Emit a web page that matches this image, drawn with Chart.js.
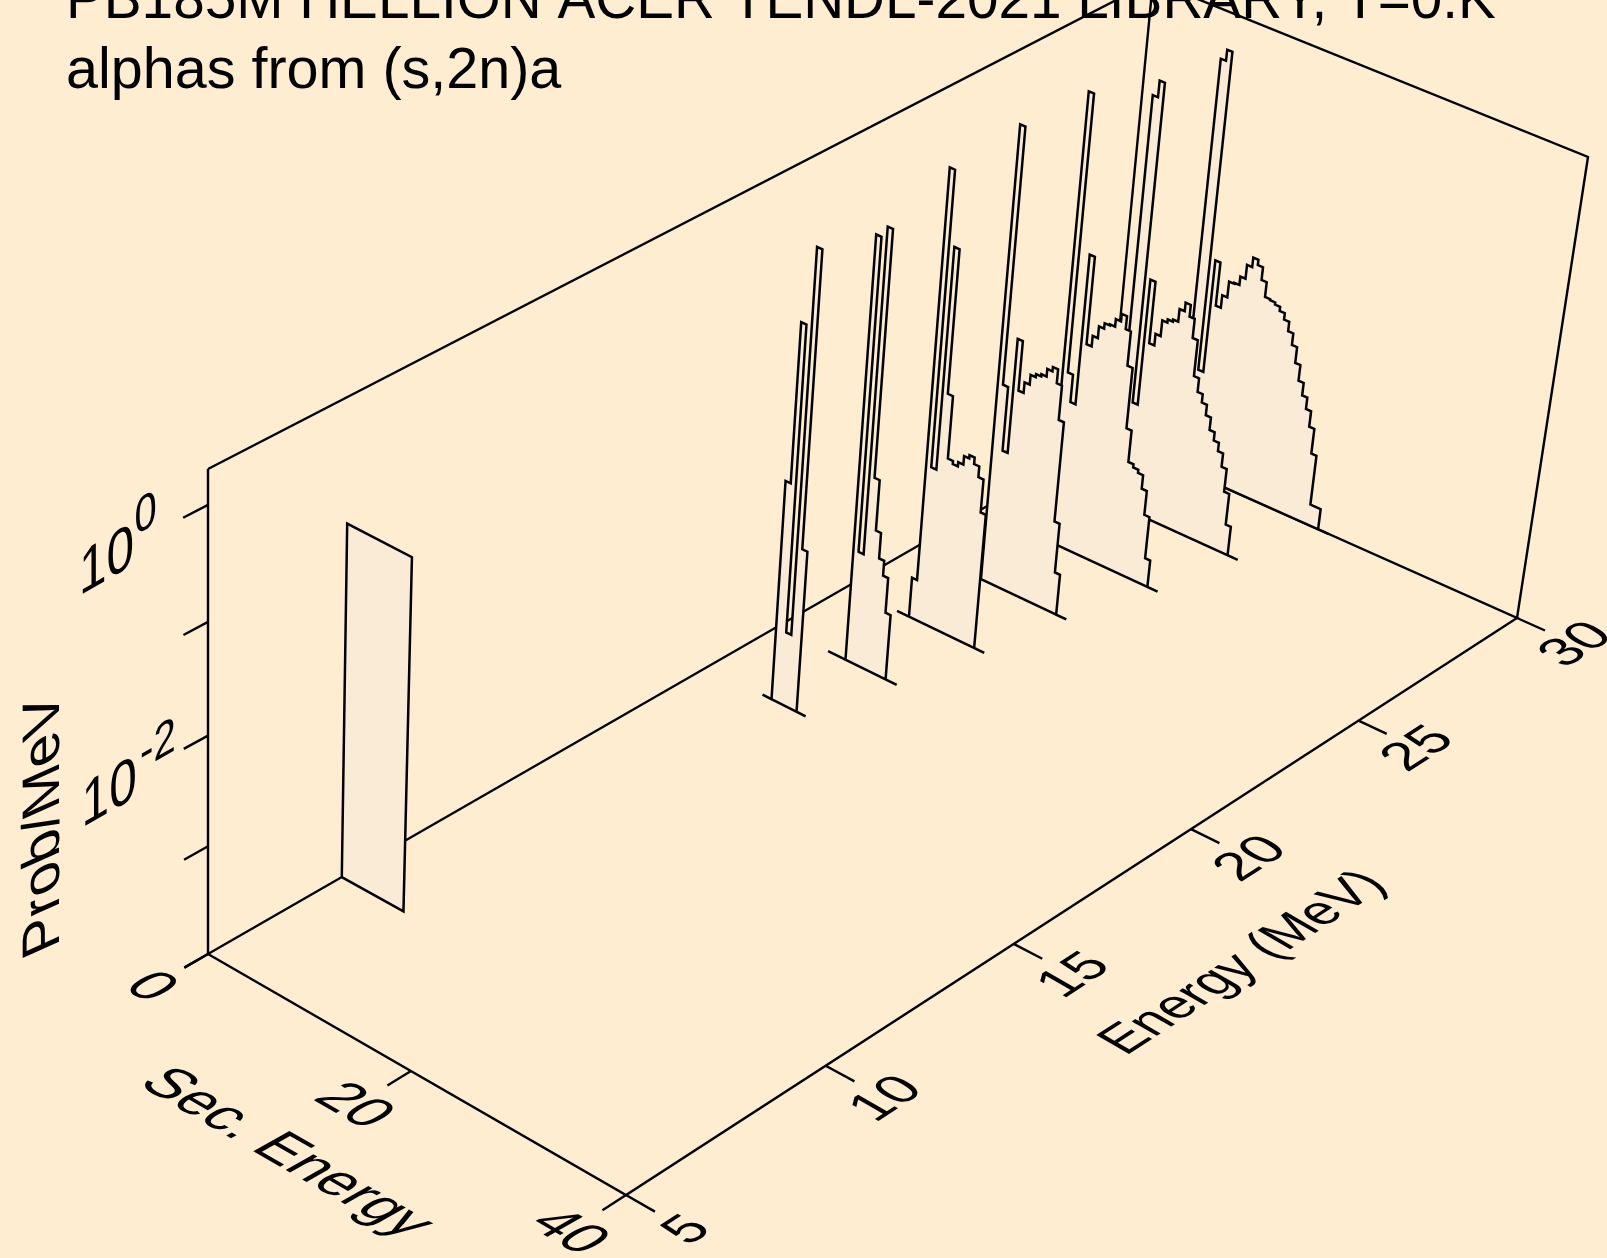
<!DOCTYPE html>
<html>
<head>
<meta charset="utf-8">
<title>alphas from (s,2n)a</title>
<style>
  html, body { margin: 0; padding: 0; background: #FFEDD2; overflow: hidden; }
  canvas { display: block; }
</style>
<script src="https://cdn.jsdelivr.net/npm/chart.js@4/dist/chart.umd.min.js"></script>
</head>
<body>
<canvas id="plot" width="1607" height="1258"></canvas>
<script>
// title
const titleLines = ['PB185M HELLION ACER TENDL-2021 LIBRARY, T=0.K', 'alphas from (s,2n)a'];

// incident energy of each spectrum (MeV), front to back
const incidentEnergies = [8.3, 18, 20, 22, 24, 26, 28, 30];

// sec. energy of the first bin edge, and bin widths (MeV)
const firstEdges = [0, 6.5, 6.85, 6.3, 6.75, 6.75, 6.8, 7];
const binWidths = [6.2, 0.5, 0.5, 0.5, 0.5, 0.5, 0.5, 0.5];

// where the zero line of each spectrum starts / how far it runs past the last bin
const baseStarts = [0, 5.6, 5.1, 5.1, 5.1, 5.1, 5.1, 5.1];
const baseOverruns = [0, 0.9, 1.1, 1, 1, 1, 1, 1];

// log10(Prob/MeV) per bin
const logProb8 = [-0.79];
const logProb18 = [-1.94, -0.49, -3.31, 0.21, -2.48];
const logProb20 = [-0.07, -2.94, 0.04, -2.2, -2.67, -2.91, -3.05, -3.38];
const logProb22 = [-3.62, 0.18, -2.52, -0.48, -1.79, -2.37, -2.4, -2.36, -2.28, -2.25, -2.31, -2.41, -2.72];
const logProb24 = [0.23, -2.11, -2.71, -1.64, -2.1, -2.0, -1.91, -1.88, -1.86, -1.79, -1.75, -1.88, -2.2, -3.14, -3.61];
const logProb26 = [0.2, -2.35, -2.61, -1.21, -2.02, -1.92, -1.81, -1.76, -1.75, -1.68, -1.61, -1.73, -2.05, -2.62, -2.92, -2.95, -2.98, -3.11, -3.34, -3.74];
const logProb28 = [-0.15, 0, -2.97, -1.78, -2.36, -2.25, -2.1, -2.07, -2.05, -1.93, -1.85, -1.96, -2.14, -2.48, -2.61, -2.69, -2.79, -2.91, -2.99, -3.07, -3.2, -3.42, -3.72];
const logProb30 = [-0.13, -0.03, -3.0, -1.93, -2.34, -2.22, -2.07, -2.06, -1.98, -1.85, -1.76, -1.81, -1.93, -2.07, -2.08, -2.1, -2.14, -2.2, -2.29, -2.4, -2.55, -2.7, -2.82, -2.93, -3.08, -3.32, -3.8, -3.8];
const allLogProbs = [logProb8, logProb18, logProb20, logProb22, logProb24, logProb26, logProb28, logProb30];

// axes
const energyTicks = [5, 10, 15, 20, 25, 30];
const secTicks = [0, 20, 40];
const logTicks = [-4, -3, -2, -1, 0];
const logLabels = [[0, '0'], [-2, '-2']];

const eMin = 5, eMax = 30, secMax = 40, logMin = -4, logMax = 0.301;

// box corners on the canvas: floor and top, in order (Emin,S0) (Emax,S0) (Emax,Smax) (Emin,Smax)
const floorCorners = [[208, 954], [1109, 436], [1517, 618], [626, 1195]];
const topCorners = [[208, 469], [1153, -19], [1588, 157], [655.6, 704.3]];

function quadMap(c) {
  const [p0, p1, p2, p3] = c;
  const sx = p0[0] - p1[0] + p2[0] - p3[0], sy = p0[1] - p1[1] + p2[1] - p3[1];
  const d1x = p1[0] - p2[0], d1y = p1[1] - p2[1], d2x = p3[0] - p2[0], d2y = p3[1] - p2[1];
  const det = d1x * d2y - d2x * d1y;
  const g = (sx * d2y - d2x * sy) / det, h = (d1x * sy - sx * d1y) / det;
  const a = p1[0] - p0[0] + g * p1[0], b = p3[0] - p0[0] + h * p3[0];
  const d = p1[1] - p0[1] + g * p1[1], e = p3[1] - p0[1] + h * p3[1];
  return (u, v) => {
    const w = g * u + h * v + 1;
    return [(a * u + b * v + p0[0]) / w, (d * u + e * v + p0[1]) / w];
  };
}
const floorMap = quadMap(floorCorners);
const topMap = quadMap(topCorners);

// 3D to the chart's x/y values
function project(energy, sec, logP) {
  const u = (energy - eMin) / (eMax - eMin), v = sec / secMax;
  const f = floorMap(u, v), t = topMap(u, v);
  const z = (logP - logMin) / (logMax - logMin);
  const k = z / (1 + 0.061 * (1 - z));
  return { x: f[0] + (t[0] - f[0]) * k, y: f[1] + (t[1] - f[1]) * k };
}

function spectrumPoints(i) {
  const e = incidentEnergies[i], levels = allLogProbs[i], w = binWidths[i];
  const pts = [project(e, baseStarts[i], logMin)];
  let s = firstEdges[i];
  pts.push(project(e, s, logMin));
  levels.forEach(level => {
    pts.push(project(e, s, level));
    s += w;
    pts.push(project(e, s, level));
  });
  pts.push(project(e, s, logMin));
  pts.push(project(e, s + baseOverruns[i], logMin));
  pts.push(project(e, baseStarts[i], logMin));
  return pts;
}

const INK = '#000000';
const datasets = [];

// spectra, lowest energy on top
incidentEnergies.forEach((e, i) => {
  datasets.push({
    label: e + ' MeV',
    data: spectrumPoints(i),
    showLine: true,
    fill: 'shape',
    backgroundColor: '#FAEBD7',
    borderColor: INK,
    borderWidth: 2.5,
    borderJoinStyle: 'miter',
    borderDash: [5000, 0],
    pointRadius: 0,
    tension: 0
  });
});

// frame and ticks, drawn under the spectra
function addLine(points, width) {
  datasets.push({
    data: points,
    showLine: true,
    fill: false,
    borderColor: INK,
    borderWidth: width || 2.4,
    borderDash: [5000, 0],
    pointRadius: 0,
    tension: 0
  });
}
addLine([project(eMin, 0, logMax), project(eMax, 0, logMax), project(eMax, secMax, logMax), project(eMax, secMax, logMin)]);
addLine([project(eMin, 0, logMax), project(eMin, 0, logMin), project(eMax, 0, logMin), project(eMax, secMax, logMin), project(eMin, secMax, logMin), project(eMin, 0, logMin)]);
addLine([project(eMax, 0, logMax), project(eMax, 0, logMin)]);
energyTicks.forEach(e => addLine([project(e, secMax, logMin), project(e, secMax * 1.065, logMin)]));
secTicks.forEach(s => addLine([project(eMin, s, logMin), project(eMin - 0.57, s, logMin)]));
logTicks.forEach(l => addLine([project(eMin, 0, l), project(eMin - 0.57, 0, l)]));

// text sits in the planes of the box, so it is sheared
const FONT = 'Liberation Sans, Arial, sans-serif';
function shearedText(chart, text, pos, baseline, glyphDown, size) {
  const { ctx, scales } = chart;
  ctx.save();
  ctx.setTransform(baseline[0], baseline[1], glyphDown[0], glyphDown[1],
    scales.x.getPixelForValue(pos.x), scales.y.getPixelForValue(pos.y));
  ctx.font = size + 'px ' + FONT;
  ctx.fillStyle = INK;
  ctx.textAlign = 'center';
  ctx.textBaseline = 'alphabetic';
  ctx.fillText(text, 0, 0.358 * size);
  ctx.restore();
}

const textPlugin = {
  id: 'boxText',
  beforeDatasetsDraw(chart) {
    const { ctx } = chart;
    ctx.save();
    ctx.fillStyle = INK;
    ctx.textAlign = 'left';
    ctx.textBaseline = 'alphabetic';
    ctx.font = '56.7px ' + FONT;
    ctx.fillText(titleLines[0], 66, 18);
    ctx.font = '57.5px ' + FONT;
    ctx.fillText(titleLines[1], 66, 88);
    ctx.restore();

    // floor plane, sec. energy side
    const secBase = [0.867, 0.5], secDown = [-0.92, 0.52];
    secTicks.forEach(s => {
      shearedText(chart, String(s), project(eMin - 1.3, s, logMin), secBase, secDown, 56);
    });
    shearedText(chart, 'Sec. Energy', { x: 290, y: 1151 }, secBase, secDown, 57);

    // floor plane, energy side
    const eBase = [0.839, -0.544], eDown = [0.866, 0.5];
    energyTicks.forEach(e => {
      shearedText(chart, String(e), project(e, secMax * 1.13, logMin), eBase, eDown, 54);
    });
    shearedText(chart, 'Energy (MeV)', { x: 1240, y: 961 }, [0.775, -0.503], eDown, 55);

    // back wall
    const wallBase = [0.87, -0.5], wallDown = [0, 1.1];
    logLabels.forEach(([l, exp]) => {
      const p = project(eMin - 2.3, 0, l);
      shearedText(chart, '10', p, wallBase, wallDown, 57);
      const along = exp.length > 1 ? 56 : 45;
      const up = exp.length > 1 ? 20 : 24;
      shearedText(chart, exp, { x: p.x + 0.87 * along, y: p.y - 0.5 * along - up }, wallBase, wallDown, 46);
    });
    shearedText(chart, 'Prob/MeV', { x: 40, y: 826 }, [0, -1], [0.91, -0.41], 58);
  }
};

new Chart(document.getElementById('plot').getContext('2d'), {
  type: 'scatter',
  data: { datasets },
  options: {
    responsive: false,
    animation: false,
    layout: { padding: 0 },
    plugins: { legend: { display: false }, tooltip: { enabled: false }, title: { display: false } },
    elements: { line: { capBezierPoints: false } },
    scales: {
      x: { type: 'linear', display: false, min: 0, max: 1607 },
      y: { type: 'linear', display: false, min: 0, max: 1258, reverse: true }
    }
  },
  plugins: [textPlugin]
});
</script>
</body>
</html>
